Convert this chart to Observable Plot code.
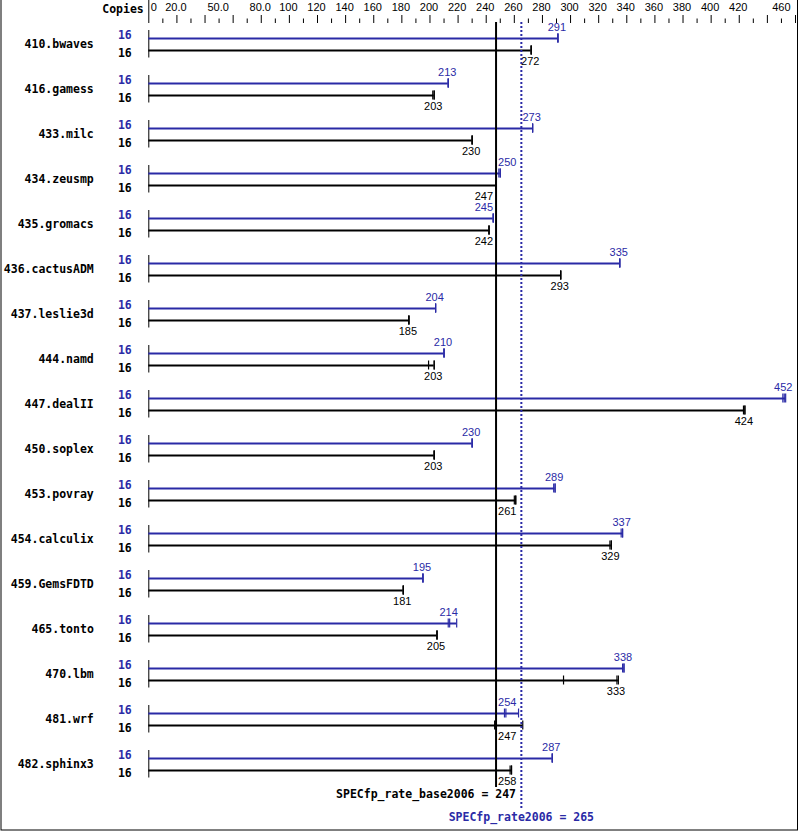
<!DOCTYPE html>
<html><head><meta charset="utf-8">
<script src="https://cdn.jsdelivr.net/npm/d3@7"></script>
<script src="https://cdn.jsdelivr.net/npm/@observablehq/plot@0.6"></script>
<style>body{margin:0;background:#fff}</style>
</head><body><div id="chart"></div>
<script>
const names = ["410.bwaves","416.gamess","433.milc","434.zeusmp","435.gromacs","436.cactusADM","437.leslie3d","444.namd","447.dealII","450.soplex","453.povray","454.calculix","459.GemsFDTD","465.tonto","470.lbm","481.wrf","482.sphinx3"];
const copiesPeak = [16,16,16,16,16,16,16,16,16,16,16,16,16,16,16,16,16];
const copiesBase = [16,16,16,16,16,16,16,16,16,16,16,16,16,16,16,16,16];
const peak = [291,213,273,250,245,335,204,210,452,230,289,337,195,214,338,254,287];
const base = [272,203,230,247,242,293,185,203,424,203,261,329,181,205,333,247,258];
const peakRuns = [[291,291,291],[213,213,213],[273,273,273],[249,250,250],[245,245,245],[335,335,335],[204,204,204],[210,210,210],[451,452,453],[230,230,230],[288,289,289],[336,337,337],[195,195,195],[213,214,219],[337,338,338],[253,254,263],[287,287,287]];
const baseRuns = [[272,272,272],[202,203,203],[230,230,230],[247,247,247],[242,242,242],[293,293,293],[185,185,185],[199,203,203],[423,424,424],[203,203,203],[260,261,261],[328,329,329],[181,181,181],[205,205,205],[295,333,334],[246,247,266],[257,258,258]];
const baseScore = 247;
const peakScore = 265;
const baseTitle = "SPECfp_rate_base2006";
const peakTitle = "SPECfp_rate2006";
const tickMinor = [10,30,50,70,90,110,130,150,170,190,210,230,250,270,290,310,330,350,370,390,410,430,450];
const tickMajor = [20,40,60,80,100,120,140,160,180,200,220,240,260,280,300,320,340,360,380,400,420,440,460];
const labelValues = [0,20,50,80,100,120,140,160,180,200,220,240,260,280,300,320,340,360,380,400,420,460];
const labelTexts = ["0","20.0","50.0","80.0","100","120","140","160","180","200","220","240","260","280","300","320","340","360","380","400","420","460"];

const BLUE = "#2a2aa6";
const BOLD = "'DejaVu Sans Mono', monospace";
const THIN = "'Liberation Sans', Arial, sans-serif";
const H = 831;

const rows = names.map((name, i) => ({
  name, cp: copiesPeak[i], cb: copiesBase[i], peak: peak[i], base: base[i],
  peakMax: d3.max(peakRuns[i]), baseMax: d3.max(baseRuns[i])
}));
const peakTicks = names.flatMap((name, i) => peakRuns[i].map(v => ({name, v})));
const baseTicks = names.flatMap((name, i) => baseRuns[i].map(v => ({name, v})));

function place(v, max) {
  if (Math.abs(v - baseScore) <= 14) return (v > baseScore || max > baseScore) ? "start" : "end";
  return "middle";
}
const peakLab = rows.map(d => ({name: d.name, v: d.peak, a: place(d.peak, d.peakMax)}));
const baseLab = rows.map(d => ({name: d.name, v: d.base, a: place(d.base, d.baseMax)}));

function valueLabels(data, color, dy) {
  return [
    Plot.text(data.filter(d => d.a === "middle"), {x: "v", y: "name", text: d => String(d.v), dy, dx: -1, fill: color, fontFamily: THIN, fontSize: 11}),
    Plot.text(data.filter(d => d.a === "start"), {x: () => baseScore, y: "name", text: d => String(d.v), dy, dx: 2, textAnchor: "start", fill: color, fontFamily: THIN, fontSize: 11}),
    Plot.text(data.filter(d => d.a === "end"), {x: () => baseScore, y: "name", text: d => String(d.v), dy, dx: -3, textAnchor: "end", fill: color, fontFamily: THIN, fontSize: 11})
  ];
}

const chart = Plot.plot({
  width: 799,
  height: H,
  margin: 0,
  style: {background: "#fff", overflow: "visible"},
  x: {domain: [0, 460], range: [148.3, 795], axis: null},
  y: {type: "band", domain: names, range: [21.5, 786.5], padding: 0, round: false, axis: null},
  marks: [
    Plot.frame({stroke: "#000", insetLeft: 0.5, insetRight: 2, insetBottom: 1.5, insetTop: -3}),
    // top axis
    Plot.ruleX([0], {insetTop: 0, insetBottom: H - 23}),
    Plot.ruleX(tickMajor, {insetTop: 15, insetBottom: H - 23}),
    Plot.ruleX(tickMinor, {insetTop: 18.5, insetBottom: H - 23}),
    Plot.text(labelValues.slice(1, -1), {x: d => d, text: (d, i) => labelTexts[i + 1], frameAnchor: "top", lineAnchor: "middle", dy: 7, dx: -1, fill: "#000", fontFamily: THIN, fontSize: 11}),
    Plot.text(labelValues.slice(0, 1), {x: d => d, text: () => labelTexts[0], frameAnchor: "top", lineAnchor: "middle", dy: 7, dx: 2, textAnchor: "start", fill: "#000", fontFamily: THIN, fontSize: 11}),
    Plot.text(labelValues.slice(-1), {x: d => d, text: () => labelTexts[labelTexts.length - 1], frameAnchor: "top", lineAnchor: "middle", dy: 7, dx: -5, textAnchor: "end", fill: "#000", fontFamily: THIN, fontSize: 11}),
    Plot.text(["Copies"], {x: () => 0, text: d => d, frameAnchor: "top", lineAnchor: "middle", dy: 9, dx: -5, textAnchor: "end", fill: "#000", fontFamily: BOLD, fontWeight: "bold", fontSize: 11.5}),
    // row labels
    Plot.text(rows, {x: () => 0, y: "name", text: "name", dx: -55, textAnchor: "end", fill: "#000", fontFamily: BOLD, fontWeight: "bold", fontSize: 11.5}),
    Plot.text(rows, {x: () => 0, y: "name", text: d => String(d.cp), dx: -17, dy: -8.8, textAnchor: "end", fill: BLUE, fontFamily: BOLD, fontWeight: "bold", fontSize: 11.5}),
    Plot.text(rows, {x: () => 0, y: "name", text: d => String(d.cb), dx: -17, dy: 9.3, textAnchor: "end", fill: "#000", fontFamily: BOLD, fontWeight: "bold", fontSize: 11.5}),
    Plot.tickX(rows, {x: () => 0, y: "name", insetTop: 8.5, insetBottom: 9, stroke: "#000", strokeWidth: 1}),
    // bars
    Plot.ruleY(rows, {y: "name", x1: () => 0, x2: "peakMax", dy: -6, stroke: BLUE, strokeWidth: 2}),
    Plot.ruleY(rows, {y: "name", x1: () => 0, x2: "baseMax", dy: 6, stroke: "#000", strokeWidth: 2}),
    Plot.tickX(peakTicks, {x: "v", y: "name", insetTop: 12, insetBottom: 24, stroke: BLUE, strokeWidth: 1.2}),
    Plot.tickX(baseTicks, {x: "v", y: "name", insetTop: 24, insetBottom: 12, stroke: "#000", strokeWidth: 1.2}),
    ...valueLabels(peakLab, BLUE, -17),
    ...valueLabels(baseLab, "#000", 17),
    // reference lines
    Plot.ruleX([baseScore], {stroke: "#000", strokeWidth: 2, insetTop: 22, insetBottom: H - 787}),
    Plot.ruleX([peakScore], {stroke: BLUE, strokeWidth: 2, strokeDasharray: "2,2", insetTop: 22, insetBottom: H - 809}),
    Plot.text([baseScore], {x: d => d, text: d => `${baseTitle} = ${d}`, frameAnchor: "bottom", lineAnchor: "middle", dy: -37, dx: 20, textAnchor: "end", fill: "#000", fontFamily: BOLD, fontWeight: "bold", fontSize: 11.5}),
    Plot.text([peakScore], {x: d => d, text: d => `${peakTitle} = ${d}`, frameAnchor: "bottom", lineAnchor: "middle", dy: -14, fill: BLUE, fontFamily: BOLD, fontWeight: "bold", fontSize: 11.5})
  ]
});
document.getElementById("chart").appendChild(chart);
</script>
</body></html>
